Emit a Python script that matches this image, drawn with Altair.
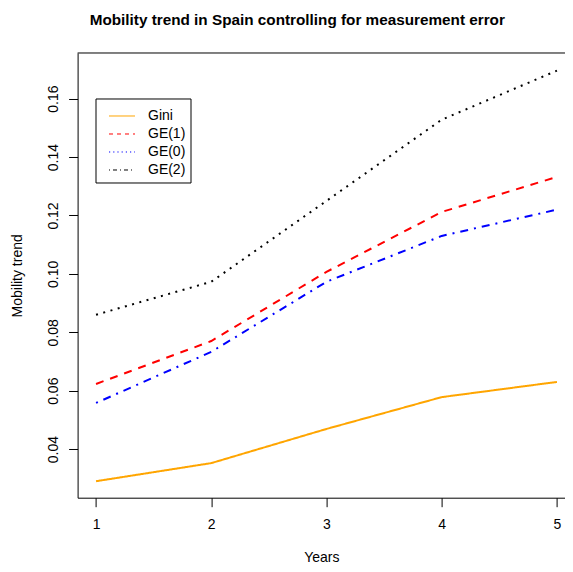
import altair as alt
import pandas as pd

# ---- data ----
years = [1, 2, 3, 4, 5]
gini = [0.029, 0.0352, 0.0469, 0.0578, 0.063]
ge1 = [0.0623, 0.077, 0.1007, 0.1212, 0.1332]
ge0 = [0.0558, 0.0733, 0.0973, 0.113, 0.122]
ge2 = [0.086, 0.0973, 0.125, 0.1528, 0.1696]

series_names = ["Gini", "GE(1)", "GE(0)", "GE(2)"]
series_values = [gini, ge1, ge0, ge2]
line_colors = ["#FFA500", "#FF0000", "#0000FF", "#000000"]
line_dashes = [[1, 0], [8, 7], [2, 6, 8, 6], [2, 5.5]]

# legend as drawn in the reference (styles differ from the lines)
legend_labels = ["Gini", "GE(1)", "GE(0)", "GE(2)"]
legend_colors = ["#FFA500", "#FF0000", "#0000FF", "#000000"]
legend_dashes = [[1, 0], [4, 4], [1.2, 3], [1, 3, 4, 3]]

x_ticks = [1, 2, 3, 4, 5]
y_ticks = [0.04, 0.06, 0.08, 0.10, 0.12, 0.14, 0.16]

FONT = "Liberation Sans"
W = 487.4
H = 444.7

rows = []
for name, vals in zip(series_names, series_values):
    for yr, v in zip(years, vals):
        rows.append({"Years": yr, "value": v, "series": name})
df = pd.DataFrame(rows)

lines = alt.Chart(df).mark_line(strokeWidth=2, clip=True).encode(
    x=alt.X("Years:Q",
            scale=alt.Scale(domain=[0.84, 5.07], nice=False, zero=False),
            axis=alt.Axis(values=x_ticks, format="d", title="Years",
                          tickSize=9, labelPadding=11, titlePadding=19)),
    y=alt.Y("value:Q",
            scale=alt.Scale(domain=[0.02336, 0.17564], nice=False, zero=False),
            axis=alt.Axis(values=y_ticks, format=".2f", title="Mobility trend",
                          tickSize=9, labelAngle=270, labelAlign="center",
                          labelBaseline="bottom", labelPadding=8,
                          titlePadding=22)),
    color=alt.Color("series:N", scale=alt.Scale(domain=series_names, range=line_colors),
                    legend=None),
    strokeDash=alt.StrokeDash("series:N",
                              scale=alt.Scale(domain=series_names, range=line_dashes),
                              legend=None),
    detail="series:N",
)

box_df = pd.DataFrame({"k": [0]})
top_line = alt.Chart(box_df).mark_rule(color="black", strokeWidth=1).encode(
    x=alt.value(0), x2=alt.value(W), y=alt.value(0)
)
legend_box = alt.Chart(box_df).mark_rect(fill="white", stroke="black", strokeWidth=1).encode(
    x=alt.value(18.4), x2=alt.value(113.4), y=alt.value(46), y2=alt.value(130)
)

legend_layers = [top_line, legend_box]
for i, (lab, col, dash) in enumerate(zip(legend_labels, legend_colors, legend_dashes)):
    d = pd.DataFrame({"label": [lab]})
    yy = 63 + 18 * i
    legend_layers.append(
        alt.Chart(d).mark_rule(color=col, strokeDash=dash, strokeWidth=1).encode(
            x=alt.value(31.4), x2=alt.value(57.4), y=alt.value(yy)
        )
    )
    legend_layers.append(
        alt.Chart(d).mark_text(align="left", baseline="middle", fontSize=14,
                               font=FONT, color="black").encode(
            x=alt.value(70.4), y=alt.value(yy), text="label:N"
        )
    )

chart = alt.layer(lines, *legend_layers).properties(
    width=W,
    height=H,
    autosize=alt.AutoSizeParams(type="none"),
    padding={"left": 69.6, "top": 45, "right": 0, "bottom": 70},
    title=alt.TitleParams(
        "Mobility trend in Spain controlling for measurement error",
        font=FONT, fontSize=15.3, fontWeight="bold", color="black",
        anchor="middle", dx=-24, baseline="alphabetic", offset=12,
    ),
).configure(background="white").configure_view(
    stroke="transparent", strokeWidth=0
).configure_axis(
    grid=False, domain=True, domainColor="black", domainWidth=1,
    tickColor="black", labelColor="black",
    titleColor="black", labelFont=FONT, titleFont=FONT, labelFontSize=14,
    titleFontSize=14, titleFontWeight="normal",
)

chart.save("out.html", embed_options={"renderer": "svg", "actions": False})
